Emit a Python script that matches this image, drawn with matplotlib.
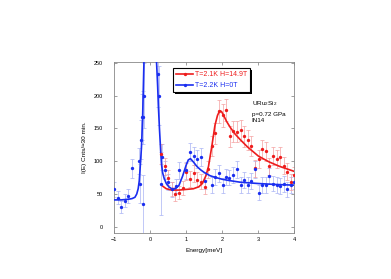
import matplotlib
matplotlib.use("Agg")
import matplotlib.pyplot as plt
from matplotlib.lines import Line2D
from matplotlib.patches import Rectangle
from matplotlib.transforms import IdentityTransform

plt.rcParams['font.family'] = ['Liberation Sans', 'DejaVu Sans']
plt.rcParams['mathtext.fontset'] = 'custom'
plt.rcParams['mathtext.rm'] = 'Liberation Sans'
plt.rcParams['mathtext.it'] = 'Liberation Sans'

# ---- data: T=2.2K H=0T (blue) ----
blue_x = [-1.0, -0.9, -0.8, -0.7, -0.6, -0.5, -0.3, -0.27, -0.25, -0.23, -0.21, -0.19, -0.17,
          0.21, 0.26, 0.29, 0.32, 0.41, 0.51, 0.60, 0.71, 0.81, 1.00, 1.11, 1.21, 1.30, 1.42,
          1.51, 1.71, 1.81, 1.92, 2.02, 2.11, 2.20, 2.31, 2.41, 2.51, 2.61, 2.71, 2.80, 2.92,
          3.02, 3.11, 3.21, 3.31, 3.42, 3.52, 3.61, 3.71, 3.81, 3.91, 4.00]
blue_y = [57, 44, 30, 40, 47, 89, 100, 66, 133, 167, 34, 167, 200,
          233, 200, 66, 107, 87, 68, 57, 62, 86, 86, 114, 108, 103, 106,
          70, 64, 76, 82, 63, 76, 75, 79, 88, 64, 71, 64, 70, 88,
          52, 64, 64, 77, 66, 64, 62, 65, 57, 64, 69]
blue_err = [12, 10, 9, 10, 11, 14, 20, 30, 30, 35, 45, 40, 50,
            50, 45, 48, 20, 14, 12, 11, 11, 13, 13, 14, 14, 14, 14,
            12, 12, 12, 13, 12, 12, 12, 12, 13, 12, 12, 12, 12, 13,
            11, 12, 12, 12, 12, 12, 12, 12, 11, 12, 12]

# ---- data: T=2.1K H=14.9T (red) ----
red_x = [0.31, 0.41, 0.51, 0.61, 0.70, 0.80, 0.91, 1.00, 1.11, 1.21, 1.31, 1.42, 1.51, 1.61,
         1.71, 1.81, 1.92, 2.02, 2.11, 2.21, 2.31, 2.41, 2.51, 2.61, 2.71, 2.80, 2.91, 3.01,
         3.11, 3.21, 3.31, 3.41, 3.51, 3.61, 3.71, 3.81, 3.92, 4.00]
red_y = [111, 92, 75, 58, 50, 52, 59, 84, 73, 82, 72, 69, 61, 88,
         123, 143, 176, 170, 178, 138, 146, 145, 147, 138, 132, 123, 89, 103,
         118, 115, 92, 108, 103, 107, 93, 84, 68, 79]
red_err = [15, 13, 12, 11, 10, 10, 11, 13, 12, 13, 12, 12, 11, 13,
           15, 16, 17, 17, 17, 16, 16, 16, 16, 16, 15, 15, 13, 14,
           15, 15, 13, 14, 14, 14, 13, 13, 12, 12]

# ---- fit curves ----
blue_fit_x = [-1.0, -0.8, -0.6, -0.5, -0.42, -0.37, -0.33, -0.30, -0.27, -0.24, -0.21, -0.19,
              -0.17, -0.12, -0.05, 0.0, 0.05, 0.12, 0.18, 0.21, 0.23, 0.26, 0.28, 0.30, 0.32,
              0.35, 0.39, 0.45, 0.52, 0.60, 0.70, 0.80, 0.90, 1.00, 1.06, 1.12, 1.20, 1.30,
              1.40, 1.50, 1.66, 1.80, 2.00, 2.20, 2.50, 3.00, 3.50, 4.00]
blue_fit_y = [41, 41, 42, 43, 45, 50, 58, 70, 94, 120, 160, 205,
              251, 400, 600, 700, 600, 400, 251, 215, 185, 150, 130, 110, 94,
              82, 74, 66, 61, 58, 58, 63, 77, 94, 102, 104, 99, 92,
              87, 83, 78, 75.5, 72.5, 70.5, 68, 66, 64.5, 63.5]
red_fit_x = [0.35, 0.45, 0.60, 0.80, 1.00, 1.20, 1.35, 1.45, 1.55, 1.62, 1.71, 1.80, 1.87,
             1.93, 1.98, 2.04, 2.12, 2.22, 2.35, 2.50, 2.70, 3.00, 3.30, 3.60, 4.00]
red_fit_y = [62, 58, 56, 56, 57, 58, 61, 66, 78, 92, 122, 155, 170,
             177, 176, 170, 161, 152, 142, 133, 122, 108, 99, 92, 84.5]

labels = ["T=2.1K H=14.9T", "T=2.2K H=0T"]
x_ticks = [-1, 0, 1, 2, 3, 4]
y_ticks = [0, 50, 100, 150, 200, 250]

RED = '#ee1c1c'
BLUE = '#1a2ef0'
RED_E = '#f4a0a0'
BLUE_E = '#a8b2f4'

fig = plt.figure(figsize=(3.91, 2.79), dpi=100)
ax = fig.add_axes([0.2916, 0.1638, 0.4611, 0.6151])

ax.errorbar(blue_x, blue_y, yerr=blue_err, fmt='none', ecolor=BLUE_E, elinewidth=0.5,
            capsize=1.2, capthick=0.5, zorder=1)
ax.errorbar(red_x, red_y, yerr=red_err, fmt='none', ecolor=RED_E, elinewidth=0.5,
            capsize=1.2, capthick=0.5, zorder=1)
ax.plot(red_fit_x, red_fit_y, color=RED, lw=1.2, zorder=3)
ax.plot(blue_fit_x, blue_fit_y, color=BLUE, lw=1.2, zorder=3)
ax.plot(red_x, red_y, 'o', color=RED, ms=2.4, mew=0, zorder=4)
ax.plot(blue_x, blue_y, 'o', color=BLUE, ms=2.4, mew=0, zorder=4)

ax.set_xlim(-1, 4)
ax.set_ylim(-10, 252)
ax.set_xticks(x_ticks)
ax.set_yticks(y_ticks)
ax.tick_params(direction='in', length=2.2, width=0.5, color='#777777', labelsize=4,
               top=True, right=True)
ax.tick_params(axis='y', pad=8)
ax.tick_params(axis='x', pad=3)
for s in ax.spines.values():
    s.set_color('#888888')
    s.set_linewidth(0.6)

ax.set_xlabel("Energy[meV]", fontsize=4.6, labelpad=4)
ax.set_ylabel("I(E) Cnts/\u224830 min.", fontsize=4.6, labelpad=5)

handles = [Line2D([], [], color=RED, lw=1.2, marker='o', ms=2.4, mew=0),
           Line2D([], [], color=BLUE, lw=1.2, marker='o', ms=2.4, mew=0)]
leg = ax.legend(handles, labels, loc='upper left', bbox_to_anchor=(0.329, 0.962),
                borderaxespad=0,
                fontsize=5, frameon=True, fancybox=False, shadow=False, framealpha=1,
                edgecolor='black', handlelength=2.4, handletextpad=0.2, borderpad=0.45,
                labelspacing=0.55, labelcolor=[RED, BLUE])
leg.get_frame().set_linewidth(0.8)
leg.set_zorder(6)

ax.text(2.82, 188, "URu$_2$Si$_2$", fontsize=4.6, va='center')
ax.text(2.82, 172, "p=0.72 GPa", fontsize=4.5, va='center')
ax.text(2.82, 162, "IN14", fontsize=4.5, va='center')

# thin black drop shadow behind the legend box (2 px offset)
fig.canvas.draw()
bb = leg.get_frame().get_window_extent()
shadow = Rectangle((bb.x0 + 2, bb.y0 - 2), bb.width, bb.height, transform=IdentityTransform(),
                   facecolor='black', edgecolor='none', zorder=5.5, clip_on=False)
ax.add_artist(shadow)

fig.savefig("out.png", dpi=100)
